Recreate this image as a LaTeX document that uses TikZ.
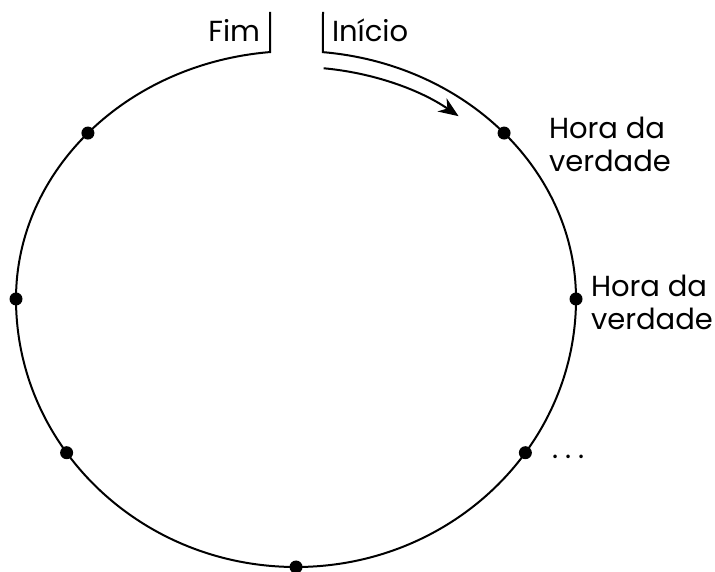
\documentclass[tikz,border=0pt]{standalone}
\usepackage{fontspec}
\setmainfont{Poppins}
\usetikzlibrary{arrows.meta,positioning}

\begin{document}
\begin{tikzpicture}[x=0.5pt,y=0.5pt,line width=1pt,
  dot/.style={circle,fill=black,inner sep=0pt,minimum size=6.5pt},
  lbl/.style={font=\fontsize{14.5}{16.5}\selectfont,align=left,inner sep=0pt}]
\useasboundingbox (0,0) rectangle (715,571);
\coordinate (c) at (296,272);
% Ends of the cycle
\coordinate (fimtop) at (270,559);
\coordinate (fimend) at ([shift={(95.3:280 and 248)}]c);
\coordinate (initop) at (323,559);
% Cycle
\draw (fimtop) -- (fimend)
  arc[start angle=95.3,end angle=180,x radius=280,y radius=248]
  arc[start angle=180,end angle=360,x radius=280,y radius=268]
  arc[start angle=0,end angle=84.5,x radius=280,y radius=248] -- (initop);
% Moments
\node[dot] (m1) at ([shift={(42:280 and 248)}]c) {};
\node[dot] (m2) at ([shift={(0:280 and 248)}]c) {};
\node[dot] (m3) at ([shift={(325:280 and 268)}]c) {};
\node[dot] (m4) at ([shift={(270:280 and 268)}]c) {};
\node[dot] (m5) at ([shift={(215:280 and 268)}]c) {};
\node[dot] (m6) at ([shift={(180:280 and 268)}]c) {};
\node[dot] (m7) at ([shift={(138:280 and 248)}]c) {};
% Direction
\coordinate (arrstart) at ([shift={(84:264 and 232)}]c);
\draw[-{Stealth[length=10pt,width=8pt]}] (arrstart)
  arc[start angle=84,end angle=52,x radius=264,y radius=232];
% Labels
\node[lbl,anchor=north east] (fim) at (261,553) {Fim};
\node[lbl,anchor=north west] (inicio) at (331,553) {Início};
\node[lbl,anchor=north west] (hora1) at (548,455) {Hora da\\verdade};
\node[lbl,anchor=north west] (hora2) at (590,297) {Hora da\\verdade};
\node[lbl,anchor=base west] (etc) at (551,112) {.\hspace{3.5pt}.\hspace{3.5pt}.};
\end{tikzpicture}
\end{document}
